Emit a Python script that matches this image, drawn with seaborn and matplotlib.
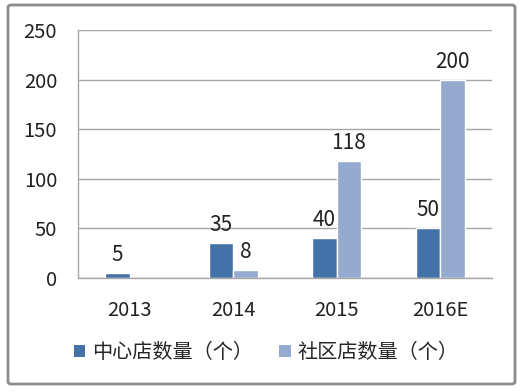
import numpy as np
import pandas as pd
import matplotlib
matplotlib.use('agg')
import matplotlib.pyplot as plt
from matplotlib.patches import FancyBboxPatch, Patch
import seaborn as sns

years = ['2013', '2014', '2015', '2016E']
center_stores = [5, 35, 40, 50]
community_stores = [np.nan, 8, 118, 200]
series_names = ['中心店数量（个）', '社区店数量（个）']
colors = ['#4472A8', '#95AACF']

sns.set_style('white')
plt.rcParams['font.family'] = ['Noto Sans CJK SC', 'DejaVu Sans']

df = pd.DataFrame({
    'year': years * 2,
    'value': center_stores + community_stores,
    'series': [series_names[0]] * 4 + [series_names[1]] * 4,
})

W, H = 524, 392
fig = plt.figure(figsize=(W / 100, H / 100), dpi=100)
ax = fig.add_axes([78 / W, 1 - 278 / H, (492 - 78) / W, (278 - 30) / H])

sns.barplot(data=df, x='year', y='value', hue='series', palette=colors,
            width=0.47, saturation=1, legend=False, ax=ax)

ax.set_ylim(0, 250)
ax.set_yticks(range(0, 251, 50))
ax.yaxis.grid(True, color='#A6A6A6', linewidth=1)
ax.set_axisbelow(True)
ax.set_xlabel('')
ax.set_ylabel('')
for s in ['top', 'right']:
    ax.spines[s].set_visible(False)
for s in ['left', 'bottom']:
    ax.spines[s].set_color('#A6A6A6')
    ax.spines[s].set_linewidth(1)
ax.tick_params(axis='both', length=0, labelsize=14.5, colors='#222222')
ax.tick_params(axis='y', pad=15)
ax.tick_params(axis='x', pad=16)

# value labels (skip missing bars)
for cont in ax.containers:
    for bar in cont:
        if bar is None or np.isnan(bar.get_height()):
            continue
        ax.annotate(str(int(bar.get_height())),
                    (bar.get_x() + bar.get_width() / 2, bar.get_height()),
                    xytext=(0, 5), textcoords='offset points',
                    ha='center', va='bottom', fontsize=15, color='#222222')

# legend
handles = [Patch(facecolor=c, edgecolor='none') for c in colors]
fig.legend(handles, series_names, loc='center left', bbox_to_anchor=(56 / W, 1 - 353 / H),
           ncol=2, frameon=False, fontsize=14.5, handlelength=0.55, handleheight=0.55,
           handletextpad=0.35, columnspacing=1.3)

# outer border
border = FancyBboxPatch((8 / W, 1 - 384 / H), (515 - 8) / W, (384 - 5) / H,
                        boxstyle='round,pad=0,rounding_size=0.006',
                        transform=fig.transFigure, facecolor='none',
                        edgecolor='#8C8C8C', linewidth=2)
fig.patches.append(border)

fig.savefig('out.png', dpi=100)
